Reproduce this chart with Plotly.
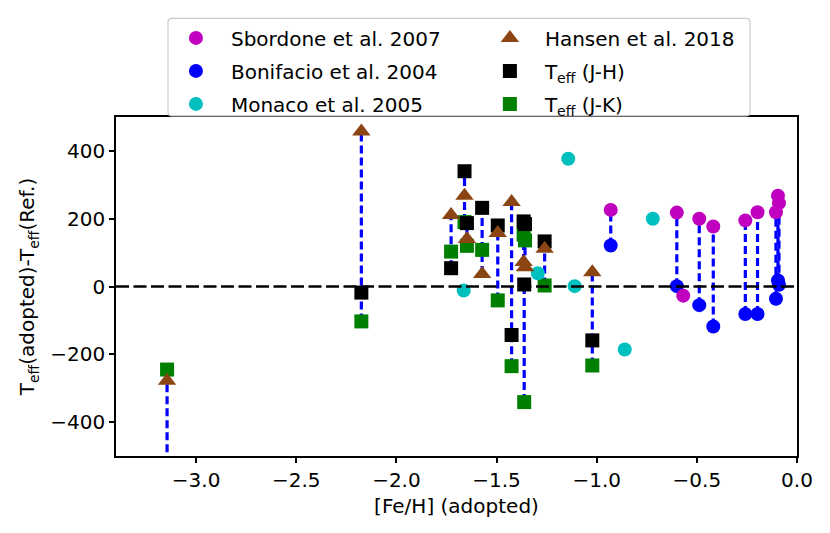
import plotly.graph_objects as go

# stars with photometric Teff and Hansen et al. 2018 reference
star_feh = [-3.145, -2.175, -1.727, -1.660, -1.648, -1.572, -1.494, -1.425,
            -1.365, -1.358, -1.362, -1.260, -1.022]
hansen = [-278, 457, 211, 268, 140, 37, 158, 249, 72, 57, None, 111, 42]
teff_jh = [-560, -18, 54, 340, 187, 232, 180, -143, 192, 184, 6, 133, -159]
teff_jk = [-245, -103, 103, 190, 120, 108, -41, -235, 153, 136, -341, 3, -233]

# Sbordone et al. 2007 / Bonifacio et al. 2004 stars
sb_feh = [-0.930, -0.600, -0.568, -0.488, -0.418, -0.258, -0.197, -0.095, -0.090, -0.105]
sbordone = [226, 218, -27, 200, 177, 195, 219, 268, 246, 219]
bonifacio = [121, 1, None, -55, -118, -81, -81, 18, 5, -36]

# Monaco et al. 2005
monaco_feh = [-1.664, -1.294, -1.142, -1.110, -0.860, -0.720]
monaco = [-12, 39, 377, 1, -186, 200]

x_range = [-3.4, 0.0]
y_range = [-500, 500]
x_ticks = [-3.0, -2.5, -2.0, -1.5, -1.0, -0.5, 0.0]
y_ticks = [-400, -200, 0, 200, 400]

FONT = "DejaVu Sans"


def span_lines(xs, *series):
    lx, ly = [], []
    for i, x in enumerate(xs):
        vals = [s[i] for s in series if s[i] is not None]
        if len(vals) < 2:
            continue
        lx += [x, x, None]
        ly += [min(vals), max(vals), None]
    return lx, ly


fig = go.Figure()

lx1, ly1 = span_lines(star_feh, hansen, teff_jh, teff_jk)
lx2, ly2 = span_lines(sb_feh, sbordone, bonifacio)
fig.add_trace(go.Scatter(x=lx1 + lx2, y=ly1 + ly2, mode="lines", showlegend=False,
                         hoverinfo="skip",
                         line=dict(color="#0000FF", width=3.2, dash="8px,4px")))


def add_pts(x, y, name, color, symbol, size, legend, rank):
    fig.add_trace(go.Scatter(
        x=x, y=y, mode="markers", name=name, legend=legend, legendrank=rank,
        legendgroup=name,
        marker=dict(color=color, symbol=symbol, size=size, line=dict(width=0))))


add_pts(star_feh, teff_jk, "T<sub>eff</sub> (J-K)", "#008000", "square", 14, "legend2", 3)
add_pts(star_feh, teff_jh, "T<sub>eff</sub> (J-H)", "#000000", "square", 14, "legend2", 2)
add_pts(monaco_feh, monaco, "Monaco et al. 2005", "#00BFBF", "circle", 14, "legend", 3)
add_pts(sb_feh, bonifacio, "Bonifacio et al. 2004", "#0000FF", "circle", 14, "legend", 2)
add_pts(sb_feh, sbordone, "Sbordone et al. 2007", "#BF00BF", "circle", 14, "legend", 1)
add_pts(star_feh, hansen, "Hansen et al. 2018", "#8B4513", "triangle-up", 16, "legend2", 1)

fig.add_shape(type="line", xref="paper", x0=0, x1=1, yref="y", y0=0, y1=0,
              layer="above", line=dict(color="black", width=2.5, dash="13px,4.5px"))

# legend frame (pixels -> paper), plot area 681 x 340 px
pw, ph = 681.0, 340.0
bx0, bx1 = 52 / pw, 634 / pw
by0, by1 = 1 + 1 / ph, 1 + 99 / ph
rx, ry = 4 / pw, 4 / ph
frame = (f"M {bx0 + rx},{by0} L {bx1 - rx},{by0} Q {bx1},{by0} {bx1},{by0 + ry} "
         f"L {bx1},{by1 - ry} Q {bx1},{by1} {bx1 - rx},{by1} "
         f"L {bx0 + rx},{by1} Q {bx0},{by1} {bx0},{by1 - ry} "
         f"L {bx0},{by0 + ry} Q {bx0},{by0} {bx0 + rx},{by0} Z")
fig.add_shape(type="path", xref="paper", yref="paper", path=frame, layer="above",
              fillcolor="rgba(255,255,255,0.8)", line=dict(color="#CCCCCC", width=1.2))

axis_common = dict(showline=True, linecolor="black", linewidth=1.5, mirror=True,
                   ticks="outside", ticklen=5, tickwidth=1.5, tickcolor="black",
                   showgrid=False, zeroline=False,
                   tickfont=dict(family=FONT, size=20, color="black"))

fig.update_xaxes(range=x_range, tickvals=x_ticks, tickformat=".1f",
                 title=dict(text="[Fe/H] (adopted)", standoff=8,
                            font=dict(family=FONT, size=20, color="black")),
                 **axis_common)
fig.update_yaxes(range=y_range, tickvals=y_ticks,
                 title=dict(text="T<sub>eff</sub>(adopted)-T<sub>eff</sub>(Ref.)", standoff=10,
                            font=dict(family=FONT, size=20, color="black")),
                 **axis_common)

leg_common = dict(orientation="v", yanchor="top", xanchor="left", y=1.287,
                  traceorder="grouped", tracegroupgap=4, itemwidth=60,
                  bgcolor="rgba(0,0,0,0)", borderwidth=0,
                  font=dict(family=FONT, size=20, color="black"))

fig.update_layout(
    width=830, height=533,
    margin=dict(l=108, r=41, t=108, b=85),
    plot_bgcolor="white", paper_bgcolor="white",
    font=dict(family=FONT, size=20, color="black"),
    legend=dict(x=0.066, **leg_common),
    legend2=dict(x=0.527, **leg_common),
)

fig.write_html("out.html")
